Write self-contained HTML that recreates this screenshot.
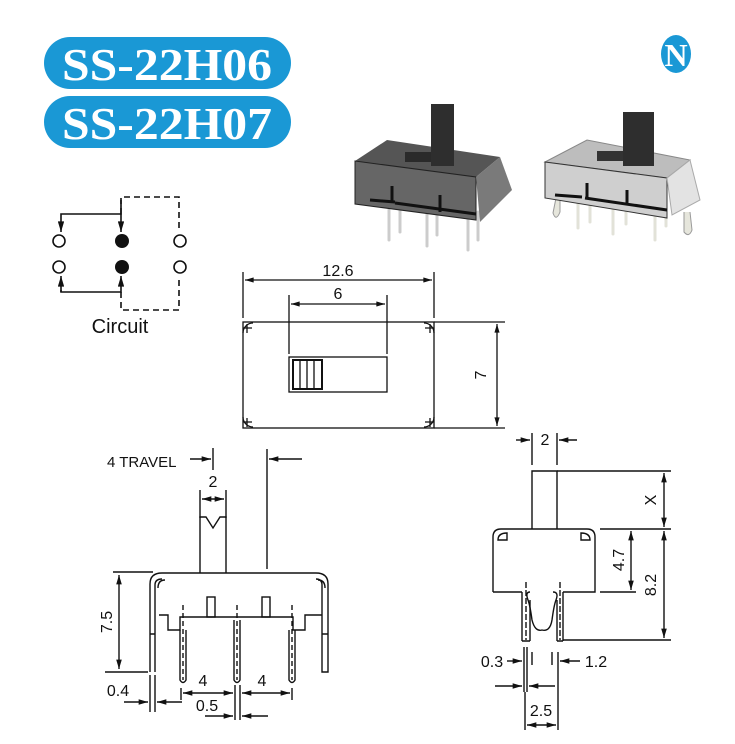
<!DOCTYPE html>
<html><head><meta charset="utf-8"><style>
html,body{margin:0;padding:0;background:#fff;}
svg{display:block;}
text{font-family:"Liberation Sans",sans-serif;fill:#111;}
</style></head><body>
<svg width="735" height="744" viewBox="0 0 735 744" xmlns="http://www.w3.org/2000/svg">
<defs>
<marker id="a" viewBox="0 0 10 6" refX="10" refY="3" markerWidth="8" markerHeight="4" orient="auto-start-reverse"><path d="M0,0L10,3L0,6z" fill="#111"/></marker>
</defs>
<!-- title pills -->
<rect x="44" y="37" width="247" height="52" rx="26" fill="#1a98d5"/>
<rect x="44" y="96" width="247" height="52" rx="26" fill="#1a98d5"/>
<text x="62" y="80" textLength="210" lengthAdjust="spacingAndGlyphs" style="font-family:'Liberation Serif',serif;font-weight:bold;font-size:46px;fill:#fff">SS-22H06</text>
<text x="62" y="139" textLength="210" lengthAdjust="spacingAndGlyphs" style="font-family:'Liberation Serif',serif;font-weight:bold;font-size:46px;fill:#fff">SS-22H07</text>
<!-- N logo -->
<ellipse cx="676" cy="54" rx="15" ry="19" fill="#1a98d5"/>
<text x="676" y="66" text-anchor="middle" style="font-family:'Liberation Serif',serif;font-weight:bold;font-size:32px;fill:#fff">N</text>

<!-- dark switch photo -->
<g stroke="#ccc" stroke-width="3" stroke-linecap="round">
<line x1="389" y1="210" x2="389" y2="240"/><line x1="400" y1="210" x2="400" y2="232"/>
<line x1="427" y1="210" x2="427" y2="246"/><line x1="437" y1="210" x2="437" y2="235"/>
<line x1="468" y1="212" x2="468" y2="250"/><line x1="478" y1="212" x2="478" y2="240"/>
</g>
<polygon points="355,161 387,140 500,157 476,177" fill="#555"/>
<polygon points="355,161 476,177 476,220 355,204" fill="#666" stroke="#222" stroke-width="1"/>
<polygon points="476,177 500,157 512,190 480,222" fill="#7a7a7a"/>
<rect x="405" y="152" width="27" height="10" fill="#2a2a2a"/>
<rect x="431" y="104" width="23" height="62" fill="#2e2e2e"/>
<path d="M370,200 L395,202 M392,186 L392,202 M440,195 L440,212 M395,203 L476,214" stroke="#111" stroke-width="3" fill="none"/>
<!-- light switch photo -->
<g stroke="#e2e2d8" stroke-width="3" stroke-linecap="round">
<line x1="578" y1="200" x2="578" y2="228"/><line x1="590" y1="200" x2="590" y2="222"/>
<line x1="613" y1="205" x2="613" y2="234"/><line x1="626" y1="205" x2="626" y2="224"/>
<line x1="655" y1="210" x2="655" y2="240"/><line x1="666" y1="210" x2="666" y2="226"/>
</g>
<path d="M556,198 L553,213 Q556,222 560,212 L560,198" fill="#e6e6dc" stroke="#999"/>
<path d="M684,212 L684,232 Q689,238 692,230 L690,212" fill="#e6e6dc" stroke="#999"/>
<polygon points="545,162 587,140 690,160 667,178" fill="#bdbdbd" stroke="#888"/>
<polygon points="545,162 667,178 667,218 545,198" fill="#cfcfcf" stroke="#333" stroke-width="1"/>
<polygon points="667,178 690,160 700,200 672,215" fill="#e3e3e3" stroke="#aaa"/>
<rect x="597" y="151" width="28" height="10" fill="#333"/>
<rect x="623" y="112" width="31" height="54" fill="#2e2e2e"/>
<path d="M555,195 L582,197 M587,183 L587,198 M627,190 L627,203 M585,198 L667,210" stroke="#111" stroke-width="3" fill="none"/>

<!-- circuit -->
<g stroke="#111" stroke-width="1.6" fill="none">
<path d="M121,200 V214 H61 V232" marker-end="url(#a)"/>
<path d="M121,214 V232" marker-end="url(#a)"/>
<path d="M121,214 V197 H179 V232" stroke-dasharray="6,4"/>
<path d="M61,290 V292 H121 V276" marker-end="url(#a)"/>
<path d="M61,292 V276" marker-end="url(#a)"/>
<path d="M121,292 V310 H179 V276" stroke-dasharray="6,4"/>
<circle cx="59" cy="241" r="6"/><circle cx="180" cy="241" r="6"/>
<circle cx="59" cy="267" r="6"/><circle cx="180" cy="267" r="6"/>
</g>
<circle cx="122" cy="241" r="7" fill="#111"/><circle cx="122" cy="267" r="7" fill="#111"/>
<text x="120" y="333" text-anchor="middle" font-size="20">Circuit</text>

<!-- top view -->
<g stroke="#111" stroke-width="1.3" fill="none">
<rect x="243" y="322" width="191" height="106"/>
<line x1="434" y1="322" x2="505" y2="322"/><line x1="434" y1="428" x2="505" y2="428"/>
<line x1="243" y1="272" x2="243" y2="318"/><line x1="434" y1="272" x2="434" y2="318"/>
<line x1="245" y1="280" x2="432" y2="280" marker-start="url(#a)" marker-end="url(#a)"/>
<line x1="289" y1="295" x2="289" y2="354"/><line x1="387" y1="295" x2="387" y2="354"/>
<line x1="291" y1="304" x2="385" y2="304" marker-start="url(#a)" marker-end="url(#a)"/>
<line x1="497" y1="324" x2="497" y2="426" marker-start="url(#a)" marker-end="url(#a)"/>
<rect x="289" y="357" width="98" height="35"/>
<rect x="293" y="360" width="29" height="29" stroke-width="2"/>
<line x1="300" y1="360" x2="300" y2="389"/><line x1="307" y1="360" x2="307" y2="389"/><line x1="314" y1="360" x2="314" y2="389"/>
<path d="M243,333 A10,10 0 0 1 253,323 M247,324 V333 M243,328 H252"/>
<path d="M434,333 A10,10 0 0 0 424,323 M430,324 V333 M434,328 H425"/>
<path d="M243,417 A10,10 0 0 0 253,427 M247,427 V418 M243,422 H252"/>
<path d="M434,417 A10,10 0 0 1 424,427 M430,427 V418 M434,422 H425"/>
</g>
<text x="338" y="276" text-anchor="middle" font-size="16">12.6</text>
<text x="338" y="299" text-anchor="middle" font-size="16">6</text>
<text transform="translate(486,375) rotate(-90)" text-anchor="middle" font-size="16">7</text>

<!-- side view -->
<g stroke="#111" stroke-width="1.4" fill="none">
<line x1="213" y1="448" x2="213" y2="470"/>
<line x1="190" y1="459" x2="211" y2="459" marker-end="url(#a)"/>
<line x1="267" y1="449" x2="267" y2="569"/>
<line x1="302" y1="459" x2="269" y2="459" marker-end="url(#a)"/>
<line x1="200" y1="490" x2="200" y2="518"/><line x1="226" y1="490" x2="226" y2="518"/>
<line x1="202" y1="499" x2="224" y2="499" marker-start="url(#a)" marker-end="url(#a)"/>
<path d="M200,573 V517 H206 L213,528 L220,517 H226 V573"/>
<path d="M150,672 V584 Q150,573 162,573 H316 Q328,573 328,584 V672 H322 V585 Q322,579 316,579"/>
<path d="M155,672 V585 Q155,579 162,579"/>
<path d="M155,634 H150 M322,634 H328"/>
<path d="M158,588 Q158,580 165,580 M318,580 Q325,580 325,588"/>
<path d="M159,615 H168 V630 H180 V617 H293 V630 H305 V615 H322"/>
<rect x="207" y="597" width="8" height="20"/><rect x="262" y="597" width="8" height="20"/>
<path d="M180,630 V680 Q183,685 186,680 V630"/>
<path d="M234,620 V680 Q237,685 240,680 V620"/>
<path d="M289,630 V680 Q292,685 295,680 V630"/>
<g stroke-dasharray="5,3"><line x1="183" y1="605" x2="183" y2="680"/><line x1="237" y1="605" x2="237" y2="680"/><line x1="292" y1="605" x2="292" y2="680"/></g>
<line x1="113" y1="572" x2="153" y2="572"/><line x1="105" y1="672" x2="148" y2="672"/>
<line x1="119" y1="575" x2="119" y2="669" marker-start="url(#a)" marker-end="url(#a)"/>
<line x1="150" y1="675" x2="150" y2="712"/><line x1="155" y1="675" x2="155" y2="712"/>
<line x1="124" y1="702" x2="148" y2="702" marker-end="url(#a)"/>
<line x1="182" y1="702" x2="157" y2="702" marker-end="url(#a)"/>
<line x1="181" y1="688" x2="181" y2="700"/><line x1="292" y1="688" x2="292" y2="700"/>
<line x1="235" y1="685" x2="235" y2="720"/><line x1="240" y1="685" x2="240" y2="720"/>
<line x1="183" y1="693" x2="233" y2="693" marker-start="url(#a)" marker-end="url(#a)"/>
<line x1="242" y1="693" x2="290" y2="693" marker-start="url(#a)" marker-end="url(#a)"/>
<line x1="205" y1="716" x2="233" y2="716" marker-end="url(#a)"/>
<line x1="268" y1="716" x2="242" y2="716" marker-end="url(#a)"/>
</g>
<text x="107" y="467" font-size="15">4 TRAVEL</text>
<text x="213" y="487" text-anchor="middle" font-size="16">2</text>
<text transform="translate(112,622) rotate(-90)" text-anchor="middle" font-size="16">7.5</text>
<text x="118" y="696" text-anchor="middle" font-size="16">0.4</text>
<text x="203" y="686" text-anchor="middle" font-size="16">4</text>
<text x="262" y="686" text-anchor="middle" font-size="16">4</text>
<text x="207" y="711" text-anchor="middle" font-size="16">0.5</text>

<!-- end view -->
<g stroke="#111" stroke-width="1.4" fill="none">
<line x1="532" y1="433" x2="532" y2="465"/><line x1="557" y1="433" x2="557" y2="465"/>
<line x1="516" y1="440" x2="530" y2="440" marker-end="url(#a)"/>
<line x1="577" y1="440" x2="559" y2="440" marker-end="url(#a)"/>
<path d="M532,529 V471 H557 V529"/>
<path d="M493,592 V537 Q493,529 501,529 H587 Q595,529 595,537 V592 H563 M522,592 H493"/>
<path d="M498,540 Q498,533 507,533 V540 Z M590,540 Q590,533 581,533 V540 Z"/>
<path d="M530,592 Q525,592 528,600 Q530,605 532,620 Q535,632 542,630 Q550,632 552,620 Q554,605 556,600 Q559,592 553,592"/>
<path d="M522,592 V641 M530,600 V641 M557,600 V641 M563,592 V641"/>
<path d="M522,641 H530 M557,641 H563"/>
<g stroke-dasharray="6,2"><line x1="526" y1="582" x2="526" y2="640"/><line x1="560" y1="582" x2="560" y2="640"/></g>
<line x1="557" y1="471" x2="671" y2="471"/><line x1="600" y1="529" x2="671" y2="529"/>
<line x1="600" y1="592" x2="636" y2="592"/><line x1="563" y1="640" x2="671" y2="640"/>
<line x1="664" y1="473" x2="664" y2="527" marker-start="url(#a)" marker-end="url(#a)"/>
<line x1="631" y1="531" x2="631" y2="590" marker-start="url(#a)" marker-end="url(#a)"/>
<line x1="664" y1="531" x2="664" y2="638" marker-start="url(#a)" marker-end="url(#a)"/>
<line x1="524" y1="647" x2="524" y2="692"/><line x1="527" y1="647" x2="527" y2="692"/>
<line x1="532" y1="652" x2="532" y2="665"/><line x1="552" y1="652" x2="552" y2="665"/>
<line x1="558" y1="652" x2="558" y2="730"/><line x1="525" y1="692" x2="525" y2="730"/>
<line x1="507" y1="661" x2="522" y2="661" marker-end="url(#a)"/>
<line x1="580" y1="661" x2="560" y2="661" marker-end="url(#a)"/>
<line x1="495" y1="686" x2="522" y2="686" marker-end="url(#a)"/>
<line x1="555" y1="686" x2="529" y2="686" marker-end="url(#a)"/>
<line x1="527" y1="725" x2="556" y2="725" marker-start="url(#a)" marker-end="url(#a)"/>
</g>
<text x="545" y="445" text-anchor="middle" font-size="16">2</text>
<text transform="translate(656,500) rotate(-90)" text-anchor="middle" font-size="16">X</text>
<text transform="translate(624,560) rotate(-90)" text-anchor="middle" font-size="16">4.7</text>
<text transform="translate(656,585) rotate(-90)" text-anchor="middle" font-size="16">8.2</text>
<text x="492" y="667" text-anchor="middle" font-size="16">0.3</text>
<text x="596" y="667" text-anchor="middle" font-size="16">1.2</text>
<text x="541" y="716" text-anchor="middle" font-size="16">2.5</text>
</svg>
</body></html>
